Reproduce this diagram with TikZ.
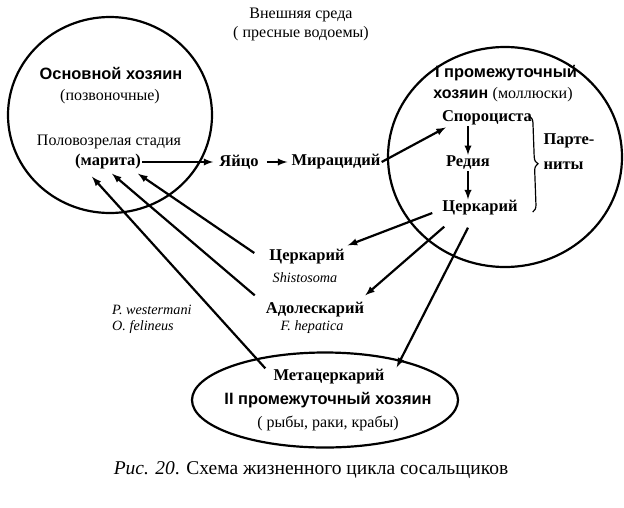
\documentclass[tikz,border=0pt]{standalone}
\usepackage{fontspec}
\setmainfont{Liberation Serif}
\setsansfont{Liberation Sans}
\usetikzlibrary{shapes,arrows,calc,positioning,decorations.pathreplacing}

\begin{document}
\begin{tikzpicture}[x=1pt,y=-1pt,
  every node/.style={inner sep=1pt,font=\fontsize{16}{18}\selectfont},
  stage/.style={font=\fontsize{16.5}{25}\selectfont\bfseries},
  host/.style={font=\fontsize{16.4}{18}\selectfont\sffamily\bfseries},
  species/.style={font=\fontsize{14.2}{16}\selectfont\itshape},
  ring/.style={draw,ellipse,line width=2.2pt,inner sep=0pt},
  link/.style={-latex,line width=2.2pt}]

        \useasboundingbox (0,0) rectangle (624,507);

        % hosts
        \node (defhost) [ring,minimum width=204pt,minimum height=196pt] at (110,115) {};
        \node (host1) [ring,minimum width=234pt,minimum height=220pt] at (505,157) {};
        \node (host2) [ring,minimum width=266pt,minimum height=95pt] at (325,400) {};

        \node (env) at (301,15) {Внешняя среда};
        \node (water) [below = 2pt of env] {( пресные водоемы)};

        \node (defname) [host] at (111,73) {Основной хозяин};
        \node (vert) at (110,97) {(позвоночные)};
        \node (mature) at (109,142) {Половозрелая стадия};
        \node (marita) [stage] at (108,162) {(марита)};

        \node (egg) [stage] at (239,162) {Яйцо};
        \node (mirac) [stage] at (336,162) {Мирацидий};

        \node (h1name) [host] at (506,73) {I промежуточный};
        \node (h1sub) at (503,95) {\sffamily\bfseries хозяин \rmfamily\mdseries(моллюски)};
        \node (sporo) [stage] at (487,118) {Спороциста};
        \node (redia) [stage] at (468,163) {Редия};
        \node (cerc1) [stage] at (480,208) {Церкарий};
        \node (parth) [stage,align=left] at (569,152) {Парте-\\ниты};

        \node (cerc2) [stage] at (307,257) {Церкарий};
        \node (shist) [species] at (305,278) {Shistosoma};
        \node (adol) [stage] at (315,310) {Адолескарий};
        \node (hepat) [species] at (312,327) {F. hepatica};
        \node (wester) [species,anchor=west] at (111,310) {P. westermani};
        \node (felin) [species,anchor=west] at (111,327) {O. felineus};

        \node (meta) [stage] at (329,377) {Метацеркарий};
        \node (h2name) [host] at (328,400) {II промежуточный хозяин};
        \node (crabs) at (328,423) {( рыбы, раки, крабы)};

        \node (caption) [font=\fontsize{19.5}{22}\selectfont] at (311,470) {\textit{Рис. 20}. Схема жизненного цикла сосальщиков};

        % cycle
        \draw[link,shorten >=5pt] (marita.east) -- (egg.west);
        \draw[link,shorten <=7pt,shorten >=3pt] (egg.east) -- (mirac.west);
        \draw[link] (mirac.east) -- ($(sporo.south west)+(5,1)$);
        \draw[link] (sporo.south -| redia) -- (redia);
        \draw[link] (redia) -- (redia |- cerc1.north);
        \draw[line width=1.2pt,decorate,decoration={brace,amplitude=7pt}] ($(sporo.east)+(-4,-2)$) -- ($(cerc1.east)+(14,4)$);

        \draw[link] ($(cerc1.west)+(-9,5)$) -- ($(cerc2.north east)+(2,-3)$);
        \draw[link] ($(cerc1.south west)+(3,10)$) -- ($(adol.north east)+(0,-6)$);
        \draw[link] ($(cerc1.south)+(-12,11)$) -- ($(meta.north east)+(11,-1)$);

        \draw[link] ($(cerc2.west)+(-14,-4)$) -- ($(marita.south east)+(-4,3)$);
        \draw[link] ($(adol.north west)+(-10,-6)$) -- ($(marita.south)+(4,3)$);
        \draw[link] ($(meta.north west)+(-7,0)$) -- ($(marita.south west)+(18,6)$);
\end{tikzpicture}
\end{document}
